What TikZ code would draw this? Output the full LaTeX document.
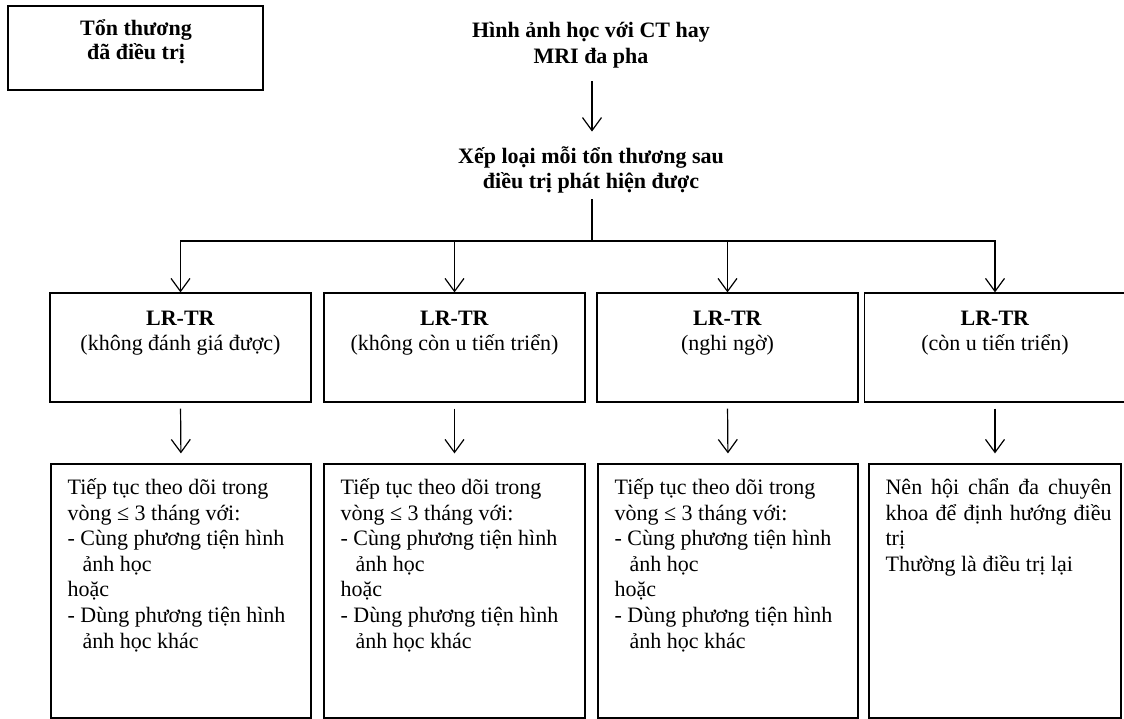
\documentclass[tikz,border=0pt]{standalone}
\usepackage{fontspec}
\setmainfont{Liberation Serif}
\usetikzlibrary{arrows.meta}
\begin{document}
\begin{tikzpicture}[x=1pt,y=1pt,
  every node/.style={font=\fontsize{22}{25}\selectfont, inner sep=0pt},
  boxstyle/.style={draw, line width=1.2pt, minimum width=#1, inner sep=0pt},
  arr/.style={line width=1.2pt, -{Straight Barb[length=13pt,width=19pt,line width=1.2pt]}},
  ln/.style={line width=1.2pt},
  bodytext/.style={anchor=north west, align=left, font=\fontsize{22}{25.6}\selectfont}
]
\useasboundingbox (0,0) rectangle (1124,-719);

% top-left box
\node[boxstyle=255pt, minimum height=84pt] (tl) at (135.5,-48) {};
\node[align=center, font=\bfseries\fontsize{22}{24}\selectfont] (tltext) at (136,-42) {Tổn thương\\đã điều trị};

% top title and classification
\node[align=center, font=\bfseries\fontsize{22}{26.5}\selectfont] (img) at (591,-45) {Hình ảnh học với CT hay\\MRI đa pha};
\node[align=center, font=\bfseries\fontsize{22}{25}\selectfont] (cls) at (591,-170) {Xếp loại mỗi tổn thương sau\\điều trị phát hiện được};
\draw[arr, shorten <=13pt, shorten >=15pt] (img.south -| 592,0) -- (cls.north -| 592,0);

% junction
\coordinate (j) at (592,-241);
\draw[ln, shorten <=6pt] (cls.south -| j) -- (j);

% LR-TR boxes
\foreach \n/\x/\t in {1/180.5/{(không đánh giá được)},2/454.5/{(không còn u tiến triển)},3/727.5/{(nghi ngờ)},4/995/{(còn u tiến triển)}}{
  \node[boxstyle=261pt, minimum height=109pt] (b\n) at (\x,-347.5) {};
  \node[align=center] (t\n) at (\x,-333) {\textbf{LR-TR}\\\t};
}
\foreach \n in {1,2,3,4}{
  \draw[arr] (j) -| (b\n.north);
}

% lower boxes
\node[boxstyle=260pt, minimum height=254pt] (c1) at (181,-591) {};
\node[boxstyle=261pt, minimum height=254pt] (c2) at (454.5,-591) {};
\node[boxstyle=260pt, minimum height=254pt] (c3) at (728,-591) {};
\node[boxstyle=252pt, minimum height=254pt] (c4) at (995,-591) {};

\foreach \n in {1,2,3}{
  \node[bodytext] (d\n) at ([xshift=17pt,yshift=-15pt]c\n.north west) {Tiếp tục theo dõi trong\\vòng ≤ 3 tháng với:\\- Cùng phương tiện hình\\\hspace*{15pt}ảnh học\\hoặc\\- Dùng phương tiện hình\\\hspace*{15pt}ảnh học khác};
}
\node[bodytext] (d4) at ([xshift=17pt,yshift=-15pt]c4.north west) {\makebox[226pt][s]{Nên hội chẩn đa chuyên}\\\makebox[226pt][s]{khoa để định hướng điều}\\trị\\Thường là điều trị lại};

\foreach \n in {1,2,3,4}{
  \draw[arr, shorten <=6pt, shorten >=10pt] (b\n.south) -- (c\n.north);
}
\end{tikzpicture}
\end{document}
